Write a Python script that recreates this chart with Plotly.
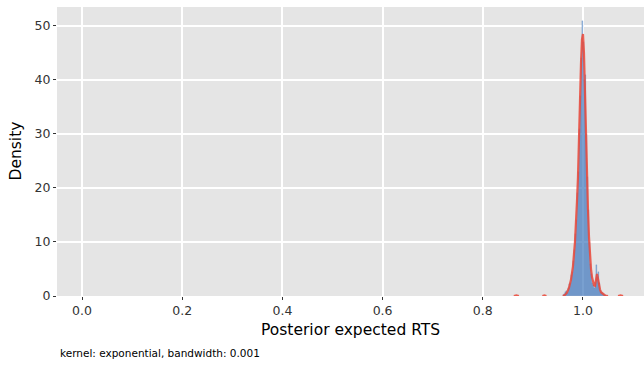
import plotly.graph_objects as go

# Histogram bins (centers, width 0.002) and densities
bin_centers = [0.961, 0.963, 0.965, 0.967, 0.969, 0.971, 0.973, 0.975, 0.977, 0.979,
               0.981, 0.983, 0.985, 0.987, 0.989, 0.991, 0.993, 0.995, 0.997, 0.999,
               1.001, 1.003, 1.005, 1.007, 1.009, 1.011, 1.013, 1.015, 1.017, 1.019,
               1.021, 1.023, 1.025, 1.027, 1.029, 1.031, 1.033, 1.035, 1.037, 1.039,
               1.041, 1.043, 1.045]
bin_density = [0.2, 0.3, 0.8, 1.0, 0.6, 1.5, 2.2, 2.5, 3.8, 4.5,
               6.5, 8.5, 11.5, 14, 19, 23, 31, 37, 44, 51,
               47, 40, 41, 30, 22, 16, 10, 6, 4, 2.5,
               2.0, 1.5, 2.5, 5.7, 3.5, 4.5, 2.5, 1.2, 0.8, 0.5,
               0.3, 0.2, 0.1]
bin_width = 0.002

# Kernel density estimate (exponential kernel, bandwidth 0.001)
kde_x = [0.862, 0.867, 0.872, None, 0.919, 0.923, 0.927, None,
         0.960, 0.964, 0.968, 0.972, 0.976, 0.980, 0.984, 0.986, 0.988, 0.990,
         0.992, 0.994, 0.996, 0.998, 1.000, 1.002, 1.004, 1.006, 1.008, 1.010,
         1.012, 1.014, 1.016, 1.018, 1.020, 1.022, 1.024, 1.026, 1.028, 1.030,
         1.032, 1.034, 1.036, 1.040, 1.044, 1.050, None, 1.070, 1.075, 1.080]
kde_y = [0.0, 0.12, 0.0, None, 0.0, 0.12, 0.0, None,
         0.0, 0.2, 0.6, 1.5, 3.0, 5.5, 10, 13, 17.5, 22,
         30, 36, 43, 47.5, 48.5, 45, 37, 30, 22, 16,
         11, 7.5, 5.0, 3.5, 2.5, 2.0, 1.9, 3.2, 4.1, 3.2,
         2.0, 1.2, 0.7, 0.3, 0.1, 0.0, None, 0.0, 0.12, 0.0]

x_ticks = [0.0, 0.2, 0.4, 0.6, 0.8, 1.0]
x_labels = ["0.0", "0.2", "0.4", "0.6", "0.8", "1.0"]
y_ticks = [0, 10, 20, 30, 40, 50]

fig = go.Figure()
fig.add_trace(go.Bar(
    x=bin_centers, y=bin_density, width=[bin_width] * len(bin_centers),
    marker=dict(color="rgba(70,130,195,0.62)", line=dict(color="rgba(60,110,180,0.6)", width=0.3)),
    showlegend=False, hoverinfo="skip"))
fig.add_trace(go.Scatter(
    x=kde_x, y=kde_y, mode="lines", connectgaps=False,
    line=dict(color="rgba(235,70,55,0.85)", width=2.2),
    showlegend=False, hoverinfo="skip"))

font = "DejaVu Sans, sans-serif"
fig.update_layout(
    width=644, height=365,
    margin=dict(l=57, r=0, t=7, b=69),
    paper_bgcolor="white", plot_bgcolor="#E5E5E5",
    bargap=0,
    font=dict(family=font, color="#000000"),
    xaxis=dict(range=[-0.0499, 1.1218], tickvals=x_ticks, ticktext=x_labels,
               showgrid=True, gridcolor="white", gridwidth=1.6, zeroline=False,
               ticks="outside", ticklen=3, tickwidth=1.3, tickcolor="#333333",
               tickfont=dict(size=12.5, color="#333333", family=font), showline=False),
    yaxis=dict(range=[0, 53.5], tickvals=y_ticks,
               showgrid=True, gridcolor="white", gridwidth=1.6, zeroline=False,
               ticks="outside", ticklen=3, tickwidth=1.3, tickcolor="#333333",
               tickfont=dict(size=12.5, color="#333333", family=font), showline=False),
    annotations=[
        dict(text="Posterior expected RTS", xref="paper", yref="paper",
             x=0.5, y=(296 - 330) / 289, xanchor="center", yanchor="middle",
             showarrow=False, font=dict(size=15.5, family=font, color="black")),
        dict(text="Density", xref="paper", yref="paper",
             x=(15 - 57) / 587, y=0.5, xanchor="center", yanchor="middle",
             textangle=-90, showarrow=False, font=dict(size=15.5, family=font, color="black")),
        dict(text="kernel: exponential, bandwidth: 0.001", xref="paper", yref="paper",
             x=(58 - 57) / 587, y=(296 - 353) / 289, xanchor="left", yanchor="middle",
             showarrow=False, font=dict(size=10.5, family=font, color="black")),
    ],
)

fig.write_html("out.html", config={"displayModeBar": False},
               post_script="document.body.style.margin='0px';document.body.style.overflow='hidden';")
